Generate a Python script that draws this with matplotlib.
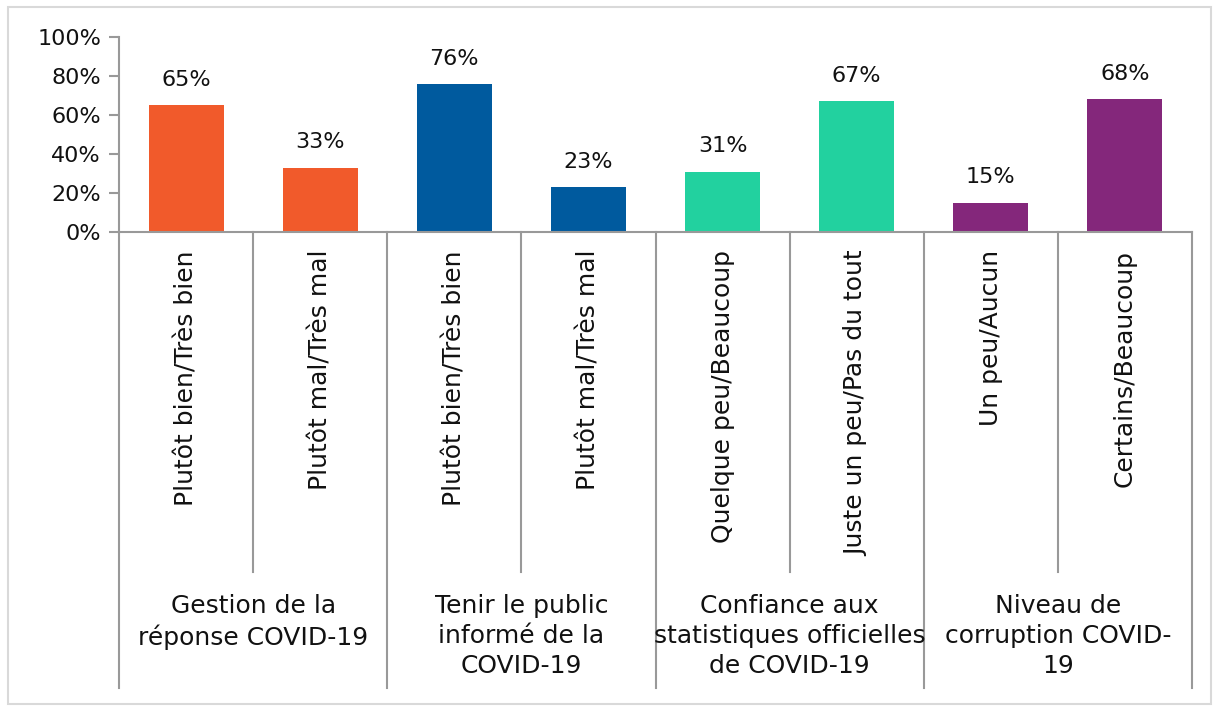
import matplotlib
matplotlib.use("Agg")
from matplotlib import pyplot as plt
from matplotlib.patches import Rectangle
import matplotlib.transforms as mtransforms

plt.rcParams['font.family'] = ['DejaVu Sans']

answers = ["Plutôt bien/Très bien", "Plutôt mal/Très mal",
           "Plutôt bien/Très bien", "Plutôt mal/Très mal",
           "Quelque peu/Beaucoup", "Juste un peu/Pas du tout",
           "Un peu/Aucun", "Certains/Beaucoup"]
values = [65, 33, 76, 23, 31, 67, 15, 68]
groups = ["Gestion de la\nréponse COVID-19",
          "Tenir le public\ninformé de la\nCOVID-19",
          "Confiance aux\nstatistiques officielles\nde COVID-19",
          "Niveau de\ncorruption COVID-\n19"]
group_colors = ["#F15A2B", "#005A9E", "#22D19F", "#84277B"]

W, H = 1219, 711
fig = plt.figure(figsize=(W / 100, H / 100), dpi=100)
ax = fig.add_axes([119 / W, 1 - 232 / H, (1192 - 119) / W, (232 - 37) / H])

gray = "#999999"
txt = "#111111"
colors = [group_colors[i // 2] for i in range(len(values))]
xs = [i + 0.5 for i in range(len(values))]
ax.bar(xs, values, width=0.56, color=colors, zorder=2)

for x, v in zip(xs, values):
    ax.annotate(f"{v}%", (x, v), xytext=(0, 11), textcoords="offset points",
                ha="center", va="bottom", fontsize=16, color=txt)

ax.set_xlim(0, 8)
ax.set_ylim(0, 100)
ax.set_yticks(range(0, 101, 20))
ax.set_yticklabels([f"{t}%" for t in range(0, 101, 20)], fontsize=16,
                   color=txt)
ax.set_xticks([])
ax.tick_params(axis="y", length=7, color=gray, width=1.5, pad=6)
for s in ["top", "right"]:
    ax.spines[s].set_visible(False)
for s in ["left", "bottom"]:
    ax.spines[s].set_color(gray)
    ax.spines[s].set_linewidth(1.5)

# category axis below the plot
trans = mtransforms.blended_transform_factory(ax.transData, fig.transFigure)
short_bottom = 1 - 572 / H
long_bottom = 1 - 688 / H
axis_y = 1 - 232 / H
for k in range(9):
    bottom = long_bottom if k % 2 == 0 else short_bottom
    ax.plot([k, k], [axis_y, bottom], color=gray, lw=1.5, transform=trans,
            clip_on=False)

for x, lab in zip(xs, answers):
    ax.text(x, 1 - 250 / H, lab, rotation=90, ha="center", va="top",
            fontsize=18, transform=trans, color=txt)

for g, lab in enumerate(groups):
    ax.text(2 * g + 1, 1 - 594 / H, lab, ha="center", va="top",
            fontsize=18, transform=trans, linespacing=1.32, color=txt)

fig.patches.append(Rectangle((8 / W, 7 / H), (1211 - 8) / W, (704 - 7) / H,
                             transform=fig.transFigure, fill=False,
                             edgecolor="#D9D9D9", lw=1.5))

fig.savefig("out.png", dpi=100)
